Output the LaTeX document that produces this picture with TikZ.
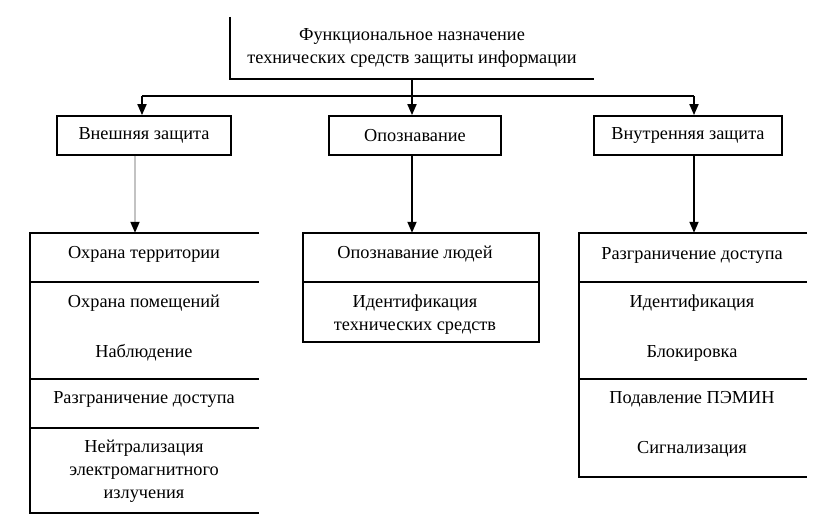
\documentclass[tikz,border=0pt]{standalone}
\usepackage{fontspec}
\setmainfont{Liberation Serif}
\usetikzlibrary{arrows.meta}
\begin{document}
\begin{tikzpicture}[x=1pt,y=-1pt,
  every node/.style={font=\fontsize{18.3}{23}\selectfont, inner sep=0pt, align=center},
  edge/.style={line width=1.8pt, black},
  box/.style={draw, line width=1.8pt, minimum height=39pt},
  arr/.style={line width=1.8pt, -{Triangle[length=11pt,width=9pt]}},
  grayarr/.style={line width=1.8pt, draw={rgb,255:red,195;green,195;blue,195}, -{Triangle[length=11pt,width=9pt,color=black]}}
]
\useasboundingbox (0,0) rectangle (827,522);

% top block
\node[minimum width=364pt, minimum height=62pt] (top) at (412,48)
  {Функциональное назначение\\технических средств защиты информации};
\draw[edge] (top.north west) -- (top.south west) -- (top.south east);

% second level
\node[box, minimum width=174pt] (ext) at (144,135.5) {Внешняя защита};
\node[box, minimum width=172pt] (opo) at (415,135.5) {Опознавание};
\node[box, minimum width=188pt] (int) at (688,135.5) {Внутренняя защита};

% distribution
\coordinate (jl) at (142,96);
\coordinate (jr) at (694,96);
\draw[edge] (jl) -- (jr);
\draw[arr] (top.south) -- (top.south |- opo.north);
\draw[arr] (jl) -- (jl |- ext.north);
\draw[arr] (jr) -- (jr |- int.north);

% lower containers
\node[minimum width=229pt, minimum height=280pt] (l1) at (144.5,373) {};
\node[minimum width=236pt, minimum height=109pt] (l2) at (421,287.5) {};
\node[minimum width=228pt, minimum height=244pt] (l3) at (693,355) {};

\draw[grayarr] ([xshift=-9pt]ext.south) -- ([xshift=-9pt]ext.south |- l1.north);
\draw[arr] ([xshift=-3pt]opo.south) -- ([xshift=-3pt]opo.south |- l2.north);
\draw[arr] ([xshift=6pt]int.south) -- ([xshift=6pt]int.south |- l3.north);

% left list
\draw[edge] (l1.north east) -- (l1.north west) -- (l1.south west) -- (l1.south east);
\draw[edge] (30,282) -- (259,282);
\draw[edge] (30,379) -- (259,379);
\draw[edge] (30,428) -- (259,428);
\node (a1) at (144,254) {Охрана территории};
\node (a2) at (144,303) {Охрана помещений};
\node (a3) at (144,353) {Наблюдение};
\node (a4) at (144,399) {Разграничение доступа};
\node (a5) at (144,471) {Нейтрализация\\электромагнитного\\излучения};

% middle list
\draw[edge] (l2.north west) rectangle (l2.south east);
\draw[edge] (303,282) -- (539,282);
\node (b1) at (415,254) {Опознавание людей};
\node (b2) at (415,314.5) {Идентификация\\технических средств};

% right list
\draw[edge] (l3.north east) -- (l3.north west) -- (l3.south west) -- (l3.south east);
\draw[edge] (579,282) -- (807,282);
\draw[edge] (579,379) -- (807,379);
\node (c1) at (692,255) {Разграничение доступа};
\node (c2) at (692,303) {Идентификация};
\node (c3) at (692,353) {Блокировка};
\node (c4) at (692,399) {Подавление ПЭМИН};
\node (c5) at (692,449) {Сигнализация};
\end{tikzpicture}
\end{document}
